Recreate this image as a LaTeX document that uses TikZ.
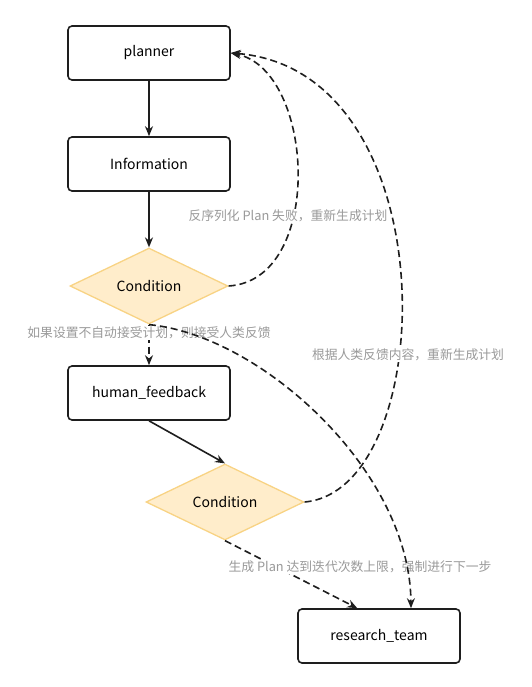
\documentclass[tikz,border=0pt]{standalone}
\usepackage{fontspec}
\setmainfont{Noto Sans CJK SC}
\usetikzlibrary{arrows.meta,shapes.geometric}
\definecolor{ink}{HTML}{1E1E1E}
\definecolor{condline}{HTML}{F8D384}
\definecolor{condfill}{HTML}{FFEDCB}
\definecolor{lblgray}{HTML}{9A9A9A}
\begin{document}
\begin{tikzpicture}[x=1pt,y=-1pt,
  box/.style={draw=ink, line width=1.6pt, rounded corners=4pt, minimum width=162pt, minimum height=54pt, inner sep=0pt, fill=white, font=\fontsize{14}{16}\selectfont},
  cond/.style={diamond, draw=condline, fill=condfill, line width=1.3pt, minimum width=158pt, minimum height=57pt, inner sep=0pt, font=\fontsize{14}{16}\selectfont},
  flow/.style={draw=ink, line width=1.6pt, -{Stealth[length=10pt,width=8pt]}},
  dflow/.style={flow, dash pattern=on 7pt off 4pt},
  lbl/.style={text=lblgray, fill=white, inner sep=1pt, font=\fontsize{12.8}{14}\selectfont}]
\useasboundingbox (0,0) rectangle (531,687);
\node[box] (planner) at (149,53) {planner};
\node[box] (info) at (149,164) {Information};
\node[cond] (c1) at (149,286) {Condition};
\node[box] (hf) at (149,393) {human\_feedback};
\node[cond] (c2) at (225,502) {Condition};
\node[box] (rt) at (379,636) {research\_team};

\draw[flow] (planner) -- (info);
\draw[flow] (info) -- (c1);
\draw[flow] (hf.south) -- (c2.north);

\draw[dflow] (c2.south) -- (rt.128);
\node[lbl] (l4) at (360,567) {生成 Plan 达到迭代次数上限，强制进行下一步};

\draw[dflow] (c1.south) -- (hf.north);
\node[lbl] (l2) at (149,333) {如果设置不自动接受计划，则接受人类反馈};

\draw[dflow] (c1.east) .. controls (325,280) and (315,70) .. (planner.east);
\node[lbl] (l1) at (288,216) {反序列化 Plan 失败，重新生成计划};

\draw[dflow] (c2.east) .. controls (440,490) and (450,70) .. (planner.east);
\node[lbl] (l3) at (408,355) {根据人类反馈内容，重新生成计划};

\draw[dflow] (c1.south) .. controls (260,335) and (410,470) .. (rt.41);
\end{tikzpicture}
\end{document}
